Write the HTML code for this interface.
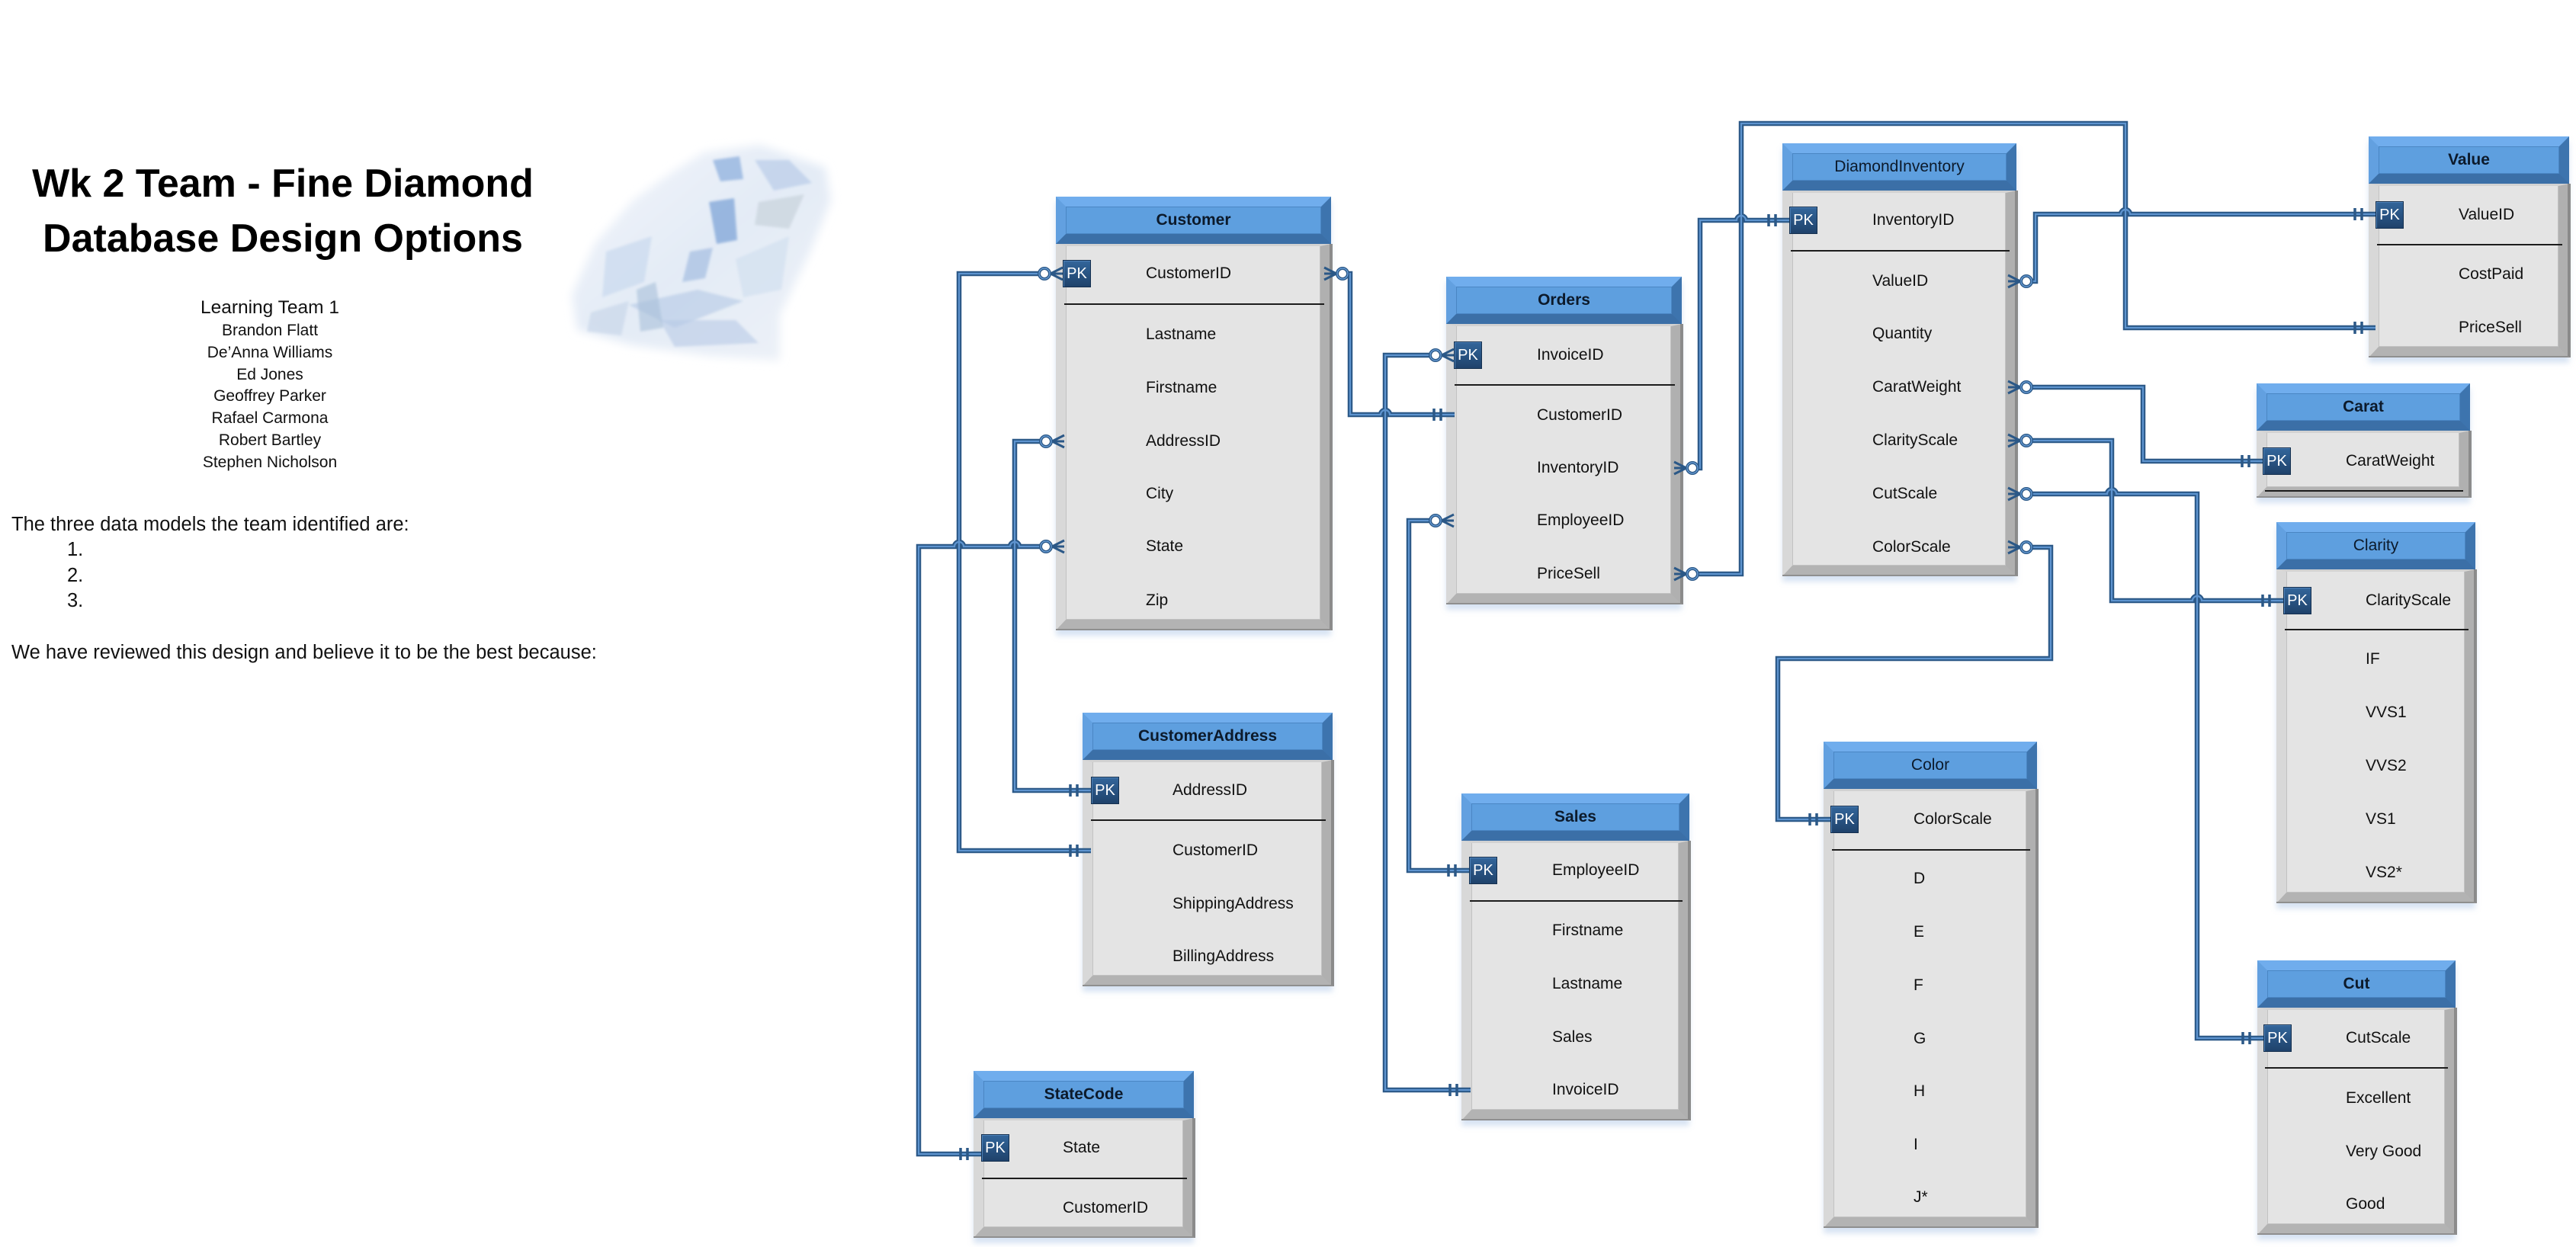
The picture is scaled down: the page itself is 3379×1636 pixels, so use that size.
<!DOCTYPE html>
<html><head><meta charset="utf-8">
<style>
html,body{margin:0;padding:0;background:#fff;}
body{width:3379px;height:1636px;position:relative;overflow:hidden;font-family:"Liberation Sans",Arial,sans-serif;color:#111;}
.t{position:absolute;box-shadow:0 7px 7px rgba(140,175,220,0.35);}
.h{position:absolute;left:0;right:0;top:0;height:62px;box-sizing:border-box;border:13px solid;border-color:#70aded #3d74ae #3b6fa7 #62a0e0;background:#5e9fdf;z-index:2;}
.hi{position:absolute;left:0;top:0;right:0;bottom:0;border:1px solid #4a86c4;}
.tt{position:absolute;left:0;right:0;top:0;height:36px;line-height:36px;text-align:center;font-size:21px;color:#0c1a2b;}
.tb{font-weight:bold;}
.bd{position:absolute;left:0;right:0;top:62px;bottom:0;box-sizing:border-box;border-style:solid;border-width:3px 14px 14px 13px;border-color:#d2d2d2 #b0b0b0 #b3b3b3 #d8d8d8;background:#e4e4e4;box-shadow:inset 0 0 0 0 #000, 2px 0 0 -0px #8c8c8c;}
.bi{position:absolute;left:0;top:0;right:0;bottom:0;border:1px solid #c2c2c2;border-top:none;}
.eg{position:absolute;right:0;top:62px;bottom:0;width:2px;background:#8a8a8a;z-index:2;}
.eb{position:absolute;left:0;right:0;bottom:0;height:2px;background:#8f8f8f;z-index:2;}
.r{position:absolute;font-size:21px;line-height:24px;white-space:nowrap;color:#111;z-index:3;}
.dv{position:absolute;height:2px;background:#1c1c1c;z-index:3;}
.pk{position:absolute;width:37px;height:36px;box-sizing:border-box;background:linear-gradient(#33669b,#1f426b);border:1px solid #15304f;box-shadow:inset 1px 1px 0 #4f82b8;color:#fff;font-size:20px;line-height:34px;text-align:center;z-index:4;}
.lt{position:absolute;white-space:nowrap;}
</style></head>
<body>

<!-- Left text -->
<div class="lt" style="left:0;width:742px;top:205px;text-align:center;font-weight:bold;font-size:52px;line-height:72px;color:#000;">Wk 2 Team - Fine Diamond<br>Database Design Options</div>
<div class="lt" style="left:204px;width:300px;top:390px;text-align:center;font-size:24.5px;line-height:28px;color:#111;">Learning Team 1</div>
<div class="lt" style="left:204px;width:300px;top:420px;text-align:center;font-size:21px;line-height:28.8px;color:#111;">Brandon Flatt<br>De’Anna Williams<br>Ed Jones<br>Geoffrey Parker<br>Rafael Carmona<br>Robert Bartley<br>Stephen Nicholson</div>
<div class="lt" style="left:15px;top:672px;font-size:25.5px;line-height:32px;color:#111;">The three data models the team identified are:</div>
<div class="lt" style="left:88px;top:705px;font-size:25.5px;line-height:33.5px;color:#111;">1.<br>2.<br>3.</div>
<div class="lt" style="left:15px;top:840px;font-size:25.5px;line-height:32px;color:#111;">We have reviewed this design and believe it to be the best because:</div>

<!-- Diamond -->
<svg style="position:absolute;left:735px;top:180px" width="370" height="310">
<defs>
<filter id="bl" x="-10%" y="-10%" width="120%" height="120%"><feGaussianBlur stdDeviation="6"/></filter>
<filter id="bl2"><feGaussianBlur stdDeviation="1.5"/></filter>
<linearGradient id="dg" x1="0" y1="0" x2="1" y2="1"><stop offset="0" stop-color="#f3f6fb"/><stop offset="0.5" stop-color="#e3ebf6"/><stop offset="1" stop-color="#eef2f8"/></linearGradient>
</defs>
<polygon filter="url(#bl)" points="188,20 262,10 348,40 355,83 328,150 288,233 288,293 195,287 95,273 22,253 15,207 45,140 95,83 145,47" fill="url(#dg)"/>
<g filter="url(#bl2)">
<polygon points="195,85 228,80 232,135 205,140" fill="#86a9d9" opacity="0.8"/>
<polygon points="200,30 235,25 240,55 210,58" fill="#8fb0de" opacity="0.75"/>
<polygon points="255,30 300,30 330,60 280,70" fill="#b9cce8" opacity="0.7"/>
<polygon points="260,85 320,75 300,120 255,115" fill="#c8d3dc" opacity="0.7"/>
<polygon points="60,150 120,130 110,190 55,210" fill="#c9d8ee" opacity="0.7"/>
<polygon points="90,220 180,200 240,215 150,250" fill="#aec4e4" opacity="0.55"/>
<polygon points="130,240 230,240 260,270 150,275" fill="#b7cae6" opacity="0.6"/>
<polygon points="100,200 125,190 135,250 105,255" fill="#a9bfd8" opacity="0.6"/>
<polygon points="230,160 300,130 290,200 240,210" fill="#d2dfef" opacity="0.7"/>
<polygon points="40,230 90,215 80,260 35,255" fill="#c5d4e8" opacity="0.6"/>
<polygon points="170,150 200,145 190,185 160,190" fill="#9ab6de" opacity="0.6"/>
</g>
</svg>

<!-- Customer -->
<div class="t" style="left:1385px;top:258px;width:361px;height:569px"><div class="h"><div class="hi"></div><div class="tt tb">Customer</div></div><div class="bd"><div class="bi"></div></div><div class="eg"></div><div class="eb"></div></div>
<div class="pk" style="left:1394px;top:341px">PK</div>
<div class="r" style="left:1503px;top:347px">CustomerID</div>
<div class="dv" style="left:1396px;top:398px;width:341px"></div>
<div class="r" style="left:1503px;top:427px">Lastname</div>
<div class="r" style="left:1503px;top:497px">Firstname</div>
<div class="r" style="left:1503px;top:567px">AddressID</div>
<div class="r" style="left:1503px;top:636px">City</div>
<div class="r" style="left:1503px;top:705px">State</div>
<div class="r" style="left:1503px;top:776px">Zip</div>

<!-- CustomerAddress -->
<div class="t" style="left:1420px;top:935px;width:328px;height:359px"><div class="h"><div class="hi"></div><div class="tt tb">CustomerAddress</div></div><div class="bd"><div class="bi"></div></div><div class="eg"></div><div class="eb"></div></div>
<div class="pk" style="left:1431px;top:1019px">PK</div>
<div class="r" style="left:1538px;top:1025px">AddressID</div>
<div class="dv" style="left:1431px;top:1075px;width:308px"></div>
<div class="r" style="left:1538px;top:1104px">CustomerID</div>
<div class="r" style="left:1538px;top:1174px">ShippingAddress</div>
<div class="r" style="left:1538px;top:1243px">BillingAddress</div>

<!-- StateCode -->
<div class="t" style="left:1277px;top:1405px;width:289px;height:219px"><div class="h"><div class="hi"></div><div class="tt tb">StateCode</div></div><div class="bd"><div class="bi"></div></div><div class="eg"></div><div class="eb"></div></div>
<div class="pk" style="left:1287px;top:1488px">PK</div>
<div class="r" style="left:1394px;top:1494px">State</div>
<div class="dv" style="left:1288px;top:1545px;width:269px"></div>
<div class="r" style="left:1394px;top:1573px">CustomerID</div>

<!-- Orders -->
<div class="t" style="left:1897px;top:363px;width:309px;height:430px"><div class="h"><div class="hi"></div><div class="tt tb">Orders</div></div><div class="bd"><div class="bi"></div></div><div class="eg"></div><div class="eb"></div></div>
<div class="pk" style="left:1907px;top:448px">PK</div>
<div class="r" style="left:2016px;top:454px">InvoiceID</div>
<div class="dv" style="left:1908px;top:504px;width:289px"></div>
<div class="r" style="left:2016px;top:533px">CustomerID</div>
<div class="r" style="left:2016px;top:602px">InventoryID</div>
<div class="r" style="left:2016px;top:671px">EmployeeID</div>
<div class="r" style="left:2016px;top:741px">PriceSell</div>

<!-- Sales -->
<div class="t" style="left:1917px;top:1041px;width:299px;height:429px"><div class="h"><div class="hi"></div><div class="tt tb">Sales</div></div><div class="bd"><div class="bi"></div></div><div class="eg"></div><div class="eb"></div></div>
<div class="pk" style="left:1927px;top:1124px">PK</div>
<div class="r" style="left:2036px;top:1130px">EmployeeID</div>
<div class="dv" style="left:1928px;top:1181px;width:279px"></div>
<div class="r" style="left:2036px;top:1209px">Firstname</div>
<div class="r" style="left:2036px;top:1279px">Lastname</div>
<div class="r" style="left:2036px;top:1349px">Sales</div>
<div class="r" style="left:2036px;top:1418px">InvoiceID</div>

<!-- DiamondInventory -->
<div class="t" style="left:2338px;top:188px;width:307px;height:568px"><div class="h"><div class="hi"></div><div class="tt">DiamondInventory</div></div><div class="bd"><div class="bi"></div></div><div class="eg"></div><div class="eb"></div></div>
<div class="pk" style="left:2347px;top:271px">PK</div>
<div class="r" style="left:2456px;top:277px">InventoryID</div>
<div class="dv" style="left:2349px;top:328px;width:287px"></div>
<div class="r" style="left:2456px;top:357px">ValueID</div>
<div class="r" style="left:2456px;top:426px">Quantity</div>
<div class="r" style="left:2456px;top:496px">CaratWeight</div>
<div class="r" style="left:2456px;top:566px">ClarityScale</div>
<div class="r" style="left:2456px;top:636px">CutScale</div>
<div class="r" style="left:2456px;top:706px">ColorScale</div>

<!-- Color -->
<div class="t" style="left:2392px;top:973px;width:280px;height:638px"><div class="h"><div class="hi"></div><div class="tt">Color</div></div><div class="bd"><div class="bi"></div></div><div class="eg"></div><div class="eb"></div></div>
<div class="pk" style="left:2401px;top:1057px">PK</div>
<div class="r" style="left:2510px;top:1063px">ColorScale</div>
<div class="dv" style="left:2403px;top:1114px;width:260px"></div>
<div class="r" style="left:2510px;top:1141px">D</div>
<div class="r" style="left:2510px;top:1211px">E</div>
<div class="r" style="left:2510px;top:1281px">F</div>
<div class="r" style="left:2510px;top:1351px">G</div>
<div class="r" style="left:2510px;top:1420px">H</div>
<div class="r" style="left:2510px;top:1490px">I</div>
<div class="r" style="left:2510px;top:1559px">J*</div>

<!-- Value -->
<div class="t" style="left:3107px;top:179px;width:263px;height:290px"><div class="h"><div class="hi"></div><div class="tt tb">Value</div></div><div class="bd"><div class="bi"></div></div><div class="eg"></div><div class="eb"></div></div>
<div class="pk" style="left:3116px;top:264px">PK</div>
<div class="r" style="left:3225px;top:270px">ValueID</div>
<div class="dv" style="left:3118px;top:320px;width:243px"></div>
<div class="r" style="left:3225px;top:348px">CostPaid</div>
<div class="r" style="left:3225px;top:418px">PriceSell</div>

<!-- Carat -->
<div class="t" style="left:2960px;top:503px;width:280px;height:150px"><div class="h"><div class="hi"></div><div class="tt tb">Carat</div></div><div class="bd"><div class="bi"></div></div><div class="eg"></div><div class="eb"></div></div>
<div class="pk" style="left:2968px;top:587px">PK</div>
<div class="r" style="left:3077px;top:593px">CaratWeight</div>
<div class="dv" style="left:2971px;top:643px;width:260px"></div>

<!-- Clarity -->
<div class="t" style="left:2986px;top:685px;width:261px;height:500px"><div class="h"><div class="hi"></div><div class="tt">Clarity</div></div><div class="bd"><div class="bi"></div></div><div class="eg"></div><div class="eb"></div></div>
<div class="pk" style="left:2995px;top:770px">PK</div>
<div class="r" style="left:3103px;top:776px">ClarityScale</div>
<div class="dv" style="left:2997px;top:825px;width:241px"></div>
<div class="r" style="left:3103px;top:853px">IF</div>
<div class="r" style="left:3103px;top:923px">VVS1</div>
<div class="r" style="left:3103px;top:993px">VVS2</div>
<div class="r" style="left:3103px;top:1063px">VS1</div>
<div class="r" style="left:3103px;top:1133px">VS2*</div>

<!-- Cut -->
<div class="t" style="left:2961px;top:1260px;width:260px;height:360px"><div class="h"><div class="hi"></div><div class="tt tb">Cut</div></div><div class="bd"><div class="bi"></div></div><div class="eg"></div><div class="eb"></div></div>
<div class="pk" style="left:2969px;top:1344px">PK</div>
<div class="r" style="left:3077px;top:1350px">CutScale</div>
<div class="dv" style="left:2971px;top:1400px;width:240px"></div>
<div class="r" style="left:3077px;top:1429px">Excellent</div>
<div class="r" style="left:3077px;top:1499px">Very Good</div>
<div class="r" style="left:3077px;top:1568px">Good</div>

<!-- Connectors -->
<svg style="position:absolute;left:0;top:0;z-index:5" width="3379" height="1636">
<defs>
<path id="cn" fill="none" d="
M1378 359 H1258 V1116 H1431
M1380 579 H1331 V1037 H1431
M1380 717 H1337 A6 6 0 0 0 1325 717 H1264 A6 6 0 0 0 1252 717 H1205 V1514 H1287
M1753 359 H1771 V544 H1811 A6 6 0 0 1 1823 544 H1908
M1891 466 H1817 V1430 H1929
M1891 683 H1848 V1142 H1927
M2212 614 H2230 V289 H2278 A6 6 0 0 1 2290 289 H2347
M2212 753 H2284 V162 H2788 V430 H3116
M2650 369 H2670 V281 H2782 A6 6 0 0 1 2794 281 H3116
M2650 508 H2811 V605 H2968
M2650 578 H2770 V788 H2876 A6 6 0 0 1 2888 788 H2995
M2650 648 H2764 A6 6 0 0 1 2776 648 H2882 V1362 H2969
M2650 718 H2690 V864 H2332 V1075 H2401"/>
</defs>
<use href="#cn" stroke="#2b5887" stroke-width="6.5" stroke-linejoin="miter"/>
<use href="#cn" stroke="#5e94cf" stroke-width="2.2"/>
<path fill="none" stroke="#2b5887" stroke-width="3" d="
M1378 359 L1394 351 M1378 359 L1394 359 M1378 359 L1394 367
M1380 579 L1396 571 M1380 579 L1396 579 M1380 579 L1396 587
M1380 717 L1396 709 M1380 717 L1396 717 M1380 717 L1396 725
M1753 359 L1737 351 M1753 359 L1737 359 M1753 359 L1737 367
M1891 466 L1907 458 M1891 466 L1907 466 M1891 466 L1907 474
M1891 683 L1907 675 M1891 683 L1907 683 M1891 683 L1907 691
M2212 614 L2196 606 M2212 614 L2196 614 M2212 614 L2196 622
M2212 753 L2196 745 M2212 753 L2196 753 M2212 753 L2196 761
M2650 369 L2634 361 M2650 369 L2634 369 M2650 369 L2634 377
M2650 508 L2634 500 M2650 508 L2634 508 M2650 508 L2634 516
M2650 578 L2634 570 M2650 578 L2634 578 M2650 578 L2634 586
M2650 648 L2634 640 M2650 648 L2634 648 M2650 648 L2634 656
M2650 718 L2634 710 M2650 718 L2634 718 M2650 718 L2634 726"/>
<g fill="#fff" stroke="#2b5887" stroke-width="4">
<circle cx="1370" cy="359" r="7"/>
<circle cx="1372" cy="579" r="7"/>
<circle cx="1372" cy="717" r="7"/>
<circle cx="1761" cy="359" r="7"/>
<circle cx="1883" cy="466" r="7"/>
<circle cx="1883" cy="683" r="7"/>
<circle cx="2220" cy="614" r="7"/>
<circle cx="2220" cy="753" r="7"/>
<circle cx="2658" cy="369" r="7"/>
<circle cx="2658" cy="508" r="7"/>
<circle cx="2658" cy="578" r="7"/>
<circle cx="2658" cy="648" r="7"/>
<circle cx="2658" cy="718" r="7"/>
</g>
<g fill="none" stroke="#6da2db" stroke-width="1.2">
<circle cx="1370" cy="359" r="7"/>
<circle cx="1372" cy="579" r="7"/>
<circle cx="1372" cy="717" r="7"/>
<circle cx="1761" cy="359" r="7"/>
<circle cx="1883" cy="466" r="7"/>
<circle cx="1883" cy="683" r="7"/>
<circle cx="2220" cy="614" r="7"/>
<circle cx="2220" cy="753" r="7"/>
<circle cx="2658" cy="369" r="7"/>
<circle cx="2658" cy="508" r="7"/>
<circle cx="2658" cy="578" r="7"/>
<circle cx="2658" cy="648" r="7"/>
<circle cx="2658" cy="718" r="7"/>
</g>
<path fill="none" stroke="#2b5887" stroke-width="3.5" d="
M1413 1108 V1124 M1404 1108 V1124
M1413 1029 V1045 M1404 1029 V1045
M1269 1506 V1522 M1260 1506 V1522
M1890 536 V552 M1881 536 V552
M1911 1422 V1438 M1902 1422 V1438
M1909 1134 V1150 M1900 1134 V1150
M2329 281 V297 M2320 281 V297
M3098 422 V438 M3089 422 V438
M3098 273 V289 M3089 273 V289
M2950 597 V613 M2941 597 V613
M2977 780 V796 M2968 780 V796
M2951 1354 V1370 M2942 1354 V1370
M2383 1067 V1083 M2374 1067 V1083"/>
</svg>

</body></html>
